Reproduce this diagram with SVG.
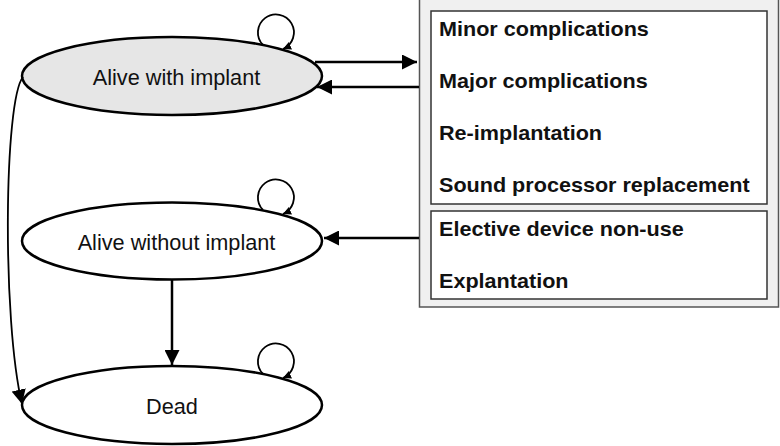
<svg xmlns="http://www.w3.org/2000/svg" width="780" height="446" viewBox="0 0 780 446">
<style>
.st{stroke:#000;stroke-width:2.5}
.lbl{font-family:"Liberation Sans",Arial,sans-serif;font-size:21.7px;fill:#111}
.box{font-family:"Liberation Sans",Arial,sans-serif;font-size:20px;font-weight:bold;fill:#111}
.ln{fill:none;stroke:#000;stroke-width:2.5}
.lp{fill:none;stroke:#000;stroke-width:1.8}
</style>
<defs>
<marker id="ah" viewBox="0 0 10 10" refX="10" refY="5" markerWidth="6" markerHeight="6" markerUnits="strokeWidth" orient="auto"><path d="M0,0 L10,5 L0,10 z" fill="#000"/></marker>
<marker id="ahs" viewBox="0 0 10 10" refX="10" refY="5" markerWidth="4.5" markerHeight="4.5" markerUnits="strokeWidth" orient="auto"><path d="M0,0 L10,5 L0,10 z" fill="#000"/></marker>
<marker id="ahc" viewBox="0 0 10 10" refX="10" refY="5" markerWidth="8" markerHeight="8" markerUnits="strokeWidth" orient="auto"><path d="M0,0 L10,5 L0,10 z" fill="#000"/></marker>
</defs>
<g id="events">
<rect x="419.5" y="-1" width="359" height="308" fill="#f0f0f0" stroke="#555" stroke-width="1.5"/>
<rect x="431" y="11" width="336" height="193" fill="#fff" stroke="#333" stroke-width="1.5"/>
<rect x="431" y="211" width="336" height="88" fill="#fff" stroke="#333" stroke-width="1.5"/>
<g transform="translate(439,0) scale(1.08,1)">
<text class="box" x="0" y="36.5">Minor complications</text>
<text class="box" x="0" y="88.5">Major complications</text>
<text class="box" x="0" y="140.5">Re-implantation</text>
<text class="box" x="0" y="192.5">Sound processor replacement</text>
<text class="box" x="0" y="236">Elective device non-use</text>
<text class="box" x="0" y="288">Explantation</text>
</g>
</g>
<g id="alive-with">
<ellipse cx="172" cy="76" rx="150" ry="39" fill="#e6e6e6" class="st"/>
<text class="lbl" x="176.5" y="84.5" text-anchor="middle">Alive with implant</text>
</g>
<g id="alive-without">
<ellipse cx="172" cy="241" rx="150" ry="38.5" fill="#fff" class="st"/>
<text class="lbl" x="176.5" y="249.5" text-anchor="middle">Alive without implant</text>
</g>
<g id="dead">
<ellipse cx="172" cy="405" rx="150" ry="39" fill="#fff" class="st"/>
<text class="lbl" x="172" y="413.5" text-anchor="middle">Dead</text>
</g>
<g id="connectors">
<path class="ln" d="M315,62 H417" marker-end="url(#ah)"/>
<path class="ln" d="M419,87 H317" marker-end="url(#ah)"/>
<path class="ln" d="M419,238 H324" marker-end="url(#ah)"/>
<path class="ln" d="M172,280 V365" marker-end="url(#ah)"/>
<path class="lp" d="M23,77 C4,100 2,320 22,404" marker-end="url(#ahc)"/>
<path class="lp" d="M263,45 A18,18 0 1 1 283,49" marker-end="url(#ahs)"/>
<path class="lp" d="M263,210 A18,18 0 1 1 283,214" marker-end="url(#ahs)"/>
<path class="lp" d="M263,374 A18,18 0 1 1 283,378" marker-end="url(#ahs)"/>
</g>
</svg>
